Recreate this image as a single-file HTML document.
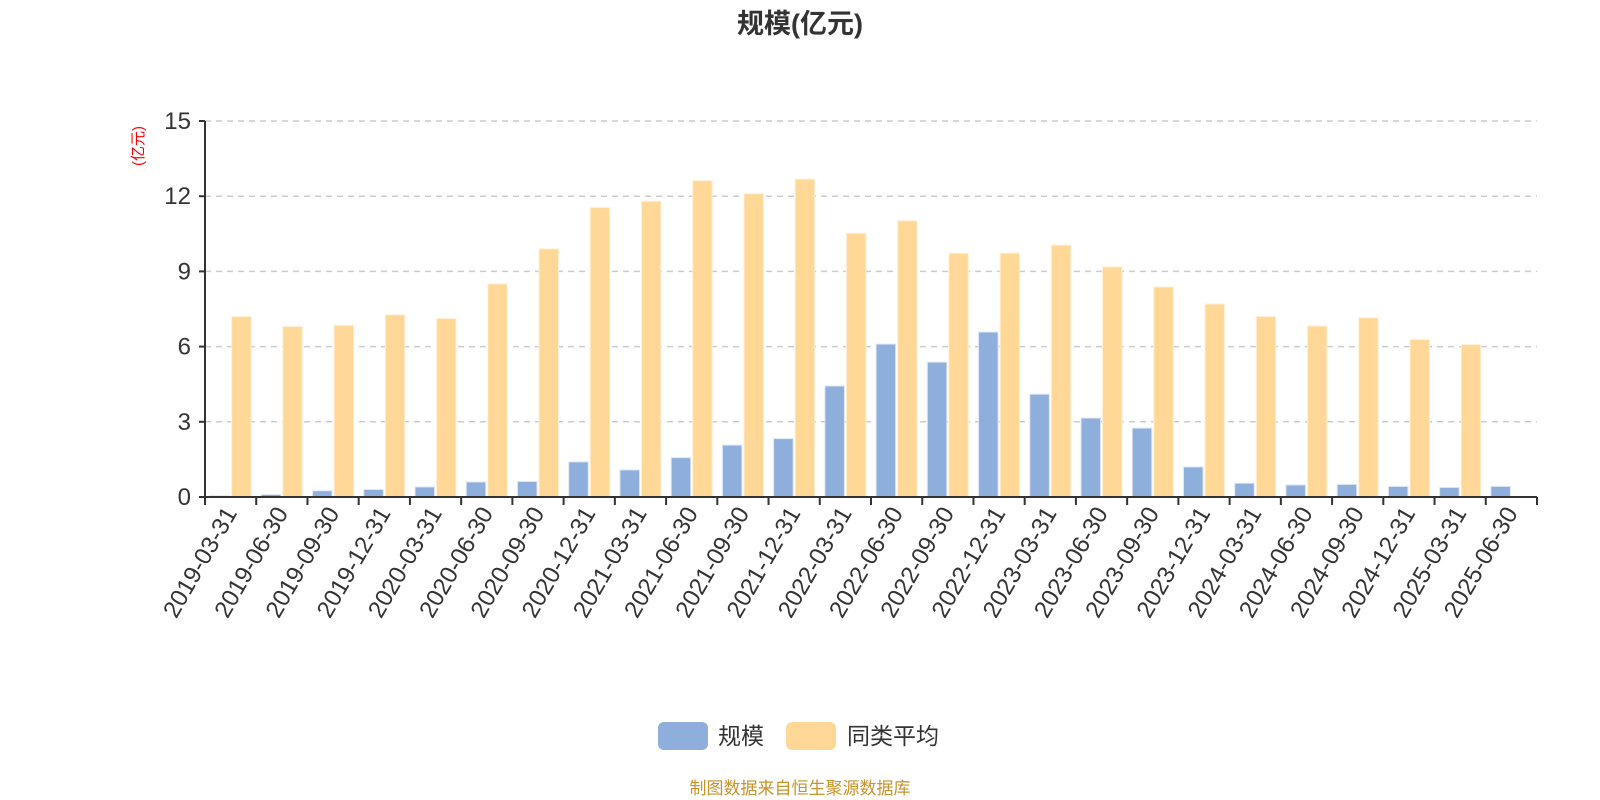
<!DOCTYPE html>
<html><head><meta charset="utf-8"><style>
html,body{margin:0;padding:0;background:#fff}
svg{display:block;font-family:"Liberation Sans","Noto Sans CJK SC",sans-serif}
</style></head><body>
<svg id="chart" width="1600" height="800" viewBox="0 0 1600 800">
<text x="800" y="33" text-anchor="middle" font-size="27" font-weight="bold" fill="#333">规模(亿元)</text>
<text transform="translate(143,146) rotate(-90)" text-anchor="middle" font-size="15" fill="#ff0000">(亿元)</text>
<g id="grid"></g><g id="bars"></g><g id="axes"></g>
<g>
<rect x="658" y="722" width="50" height="28" rx="6" fill="#8eaedb"/>
<text x="718" y="744" font-size="23" fill="#333">规模</text>
<rect x="786" y="722" width="50" height="28" rx="6" fill="#ffd898"/>
<text x="847" y="744" font-size="23" fill="#333">同类平均</text>
</g>
<text x="800" y="794" text-anchor="middle" font-size="17" fill="#c8922a">制图数据来自恒生聚源数据库</text>
</svg>
<script>
const categories=["2019-03-31","2019-06-30","2019-09-30","2019-12-31","2020-03-31","2020-06-30","2020-09-30","2020-12-31","2021-03-31","2021-06-30","2021-09-30","2021-12-31","2022-03-31","2022-06-30","2022-09-30","2022-12-31","2023-03-31","2023-06-30","2023-09-30","2023-12-31","2024-03-31","2024-06-30","2024-09-30","2024-12-31","2025-03-31","2025-06-30"];
const scaleValues=[0.05,0.1,0.25,0.3,0.4,0.6,0.62,1.4,1.08,1.57,2.07,2.33,4.43,6.1,5.38,6.58,4.1,3.15,2.75,1.2,0.55,0.48,0.5,0.42,0.38,0.42];
const avgValues=[7.2,6.8,6.85,7.27,7.12,8.5,9.9,11.55,11.8,12.62,12.1,12.68,10.52,11.02,9.72,9.73,10.05,9.18,8.38,7.7,7.2,6.82,7.15,6.28,6.08,null];
const yTicks=[0,3,6,9,12,15];
const NS="http://www.w3.org/2000/svg";
const X0=205,X1=1537,Y0=497,Y1=121,YMAX=15;
const bw=(X1-X0)/categories.length;
const y=v=>Y0-(v/YMAX)*(Y0-Y1);
const xc=i=>X0+bw*(i+0.5);
function mk(tag,attrs,parent){const e=document.createElementNS(NS,tag);for(const k in attrs)e.setAttribute(k,attrs[k]);parent.appendChild(e);return e;}
const grid=document.getElementById('grid'),bars=document.getElementById('bars'),axes=document.getElementById('axes');
yTicks.forEach(t=>{
  if(t>0){const l=mk('line',{x1:X0,x2:X1,y1:y(t),y2:y(t),stroke:'#ccc','stroke-width':1.5,'stroke-dasharray':'6,5'},grid);
  
  }
  const tk=mk('line',{x1:X0-6,x2:X0,y1:y(t),y2:y(t),stroke:'#333','stroke-width':2},axes);
  
  
  const tx=mk('text',{x:X0-14,y:y(t)+8,'text-anchor':'end','font-size':24,fill:'#333'},axes);
  tx.textContent=t;
  
  
});
const W=19.5,G=2;
categories.forEach((c,i)=>{
  const cx=xc(i);
  const v1=scaleValues[i];
  if(v1!=null){const r=mk('rect',{x:cx-G/2-W,y:y(v1),width:W,height:Y0-y(v1),fill:'#8eaedb',stroke:'#dde6f5','stroke-width':1},bars);
  
  }
  const v2=avgValues[i];
  if(v2!=null){const r=mk('rect',{x:cx+G/2,y:y(v2),width:W,height:Y0-y(v2),fill:'#ffd898',stroke:'#fff0d6','stroke-width':1},bars);
  
  }
  const tx=mk('text',{transform:`translate(${cx+7},${Y0+16}) rotate(-60)`,'text-anchor':'end','font-size':24,fill:'#333'},axes);
  tx.textContent=c;
  
  
});
for(let i=0;i<=categories.length;i++){
  const tk=mk('line',{x1:X0+bw*i,x2:X0+bw*i,y1:Y0,y2:Y0+8,stroke:'#333','stroke-width':2},axes);
  
  
}
const xa=mk('line',{x1:X0,x2:X1,y1:Y0,y2:Y0,stroke:'#333','stroke-width':2},axes);


const ya=mk('line',{x1:X0,x2:X0,y1:Y1,y2:Y0,stroke:'#333','stroke-width':2},axes);


</script>
</body></html>
